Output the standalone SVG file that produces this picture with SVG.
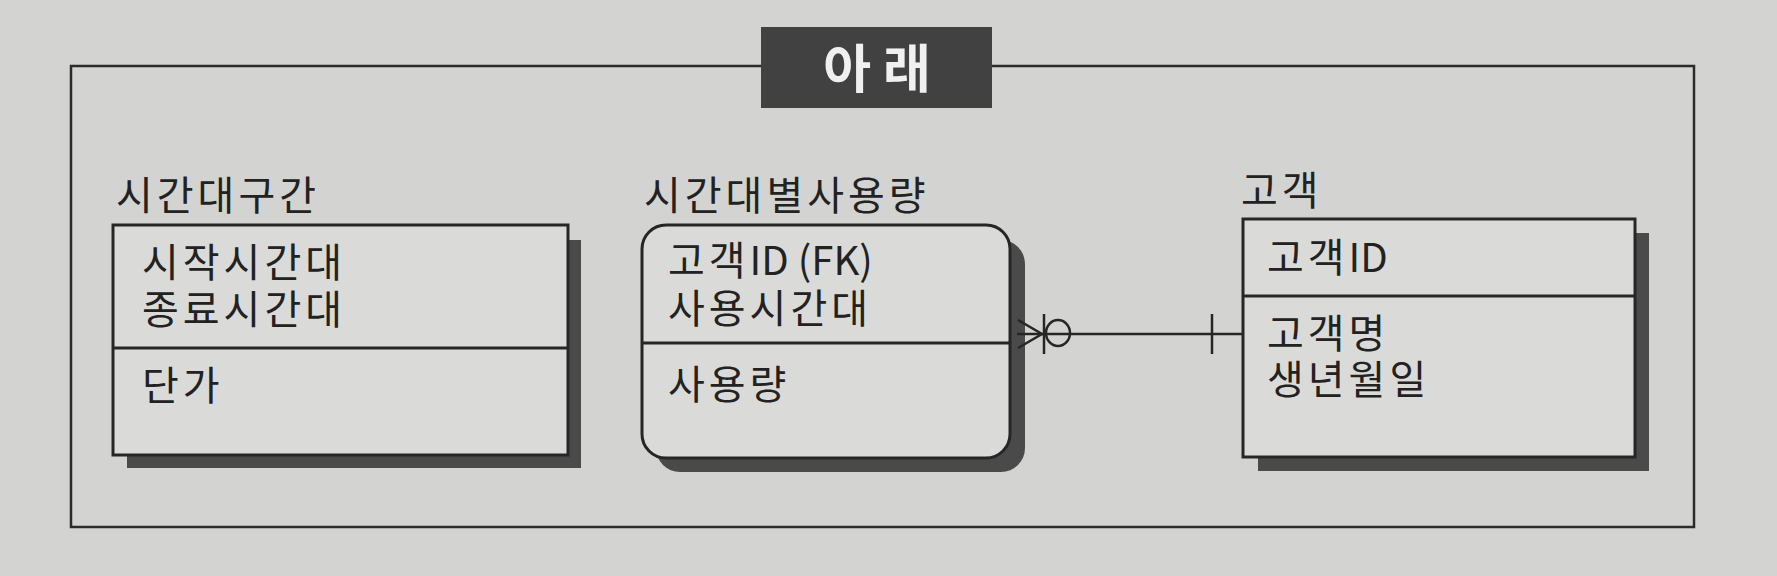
<svg xmlns="http://www.w3.org/2000/svg" width="1777" height="576" viewBox="0 0 1777 576">
<style>
.bg{fill:#d3d4d2}
.frame{fill:none;stroke:#2b2b2b;stroke-width:2.5}
.box{fill:#dadbd9;stroke:#262626;stroke-width:3}
.shadow{fill:#4a4a4a}
.div{stroke:#262626;stroke-width:3}
.conn{fill:none;stroke:#262626;stroke-width:2.5}
.t{font-family:"Noto Sans CJK KR","Noto Sans",sans-serif;font-size:40px;fill:#222;letter-spacing:4px}
.lat{letter-spacing:0px}
.ttl{font-family:"Noto Sans CJK KR","Noto Sans",sans-serif;font-size:52px;font-weight:bold;fill:#f0f0f0;text-anchor:middle}
</style>
<rect class="bg" x="0" y="0" width="1777" height="576"/>
<g id="frame">
<rect class="frame" x="71" y="66" width="1623" height="461"/>
<rect x="761" y="27" width="231" height="81" fill="#414141"/>
<text class="ttl" x="877" y="88">아 래</text>
</g>
<g id="timeband">
<text class="t" x="116" y="210">시간대구간</text>
<rect class="shadow" x="127" y="240" width="454" height="228"/>
<rect class="box" x="113" y="225" width="455" height="230"/>
<line class="div" x1="113" y1="348" x2="568" y2="348"/>
<text class="t" x="142" y="277">시작시간대</text>
<text class="t" x="142" y="324">종료시간대</text>
<text class="t" x="142" y="400">단가</text>
</g>
<g id="usage">
<text class="t" x="644" y="210">시간대별사용량</text>
<rect class="shadow" x="656" y="240" width="369" height="232" rx="24"/>
<rect class="box" x="642" y="225" width="368" height="233" rx="24"/>
<line class="div" x1="642" y1="343" x2="1010" y2="343"/>
<text class="t" x="668" y="275">고객<tspan class="lat">ID (FK)</tspan></text>
<text class="t" x="668" y="323">사용시간대</text>
<text class="t" x="668" y="399">사용량</text>
</g>
<g id="customer">
<text class="t" x="1241" y="205">고객</text>
<rect class="shadow" x="1258" y="233" width="391" height="238"/>
<rect class="box" x="1243" y="219" width="392" height="238"/>
<line class="div" x1="1243" y1="296" x2="1635" y2="296"/>
<text class="t" x="1267" y="272">고객<tspan class="lat">ID</tspan></text>
<text class="t" x="1267" y="348">고객명</text>
<text class="t" x="1267" y="394">생년월일</text>
</g>
<g id="connectors">
<line class="conn" x1="1017" y1="334" x2="1243" y2="334"/>
<polyline class="conn" points="1018,320 1042,334 1018,348"/>
<line class="conn" x1="1044" y1="314" x2="1044" y2="354"/>
<ellipse class="conn" cx="1058" cy="333" rx="12" ry="13" fill="#d3d4d2"/>
<line class="conn" x1="1212" y1="314" x2="1212" y2="354"/>
</g>
</svg>
